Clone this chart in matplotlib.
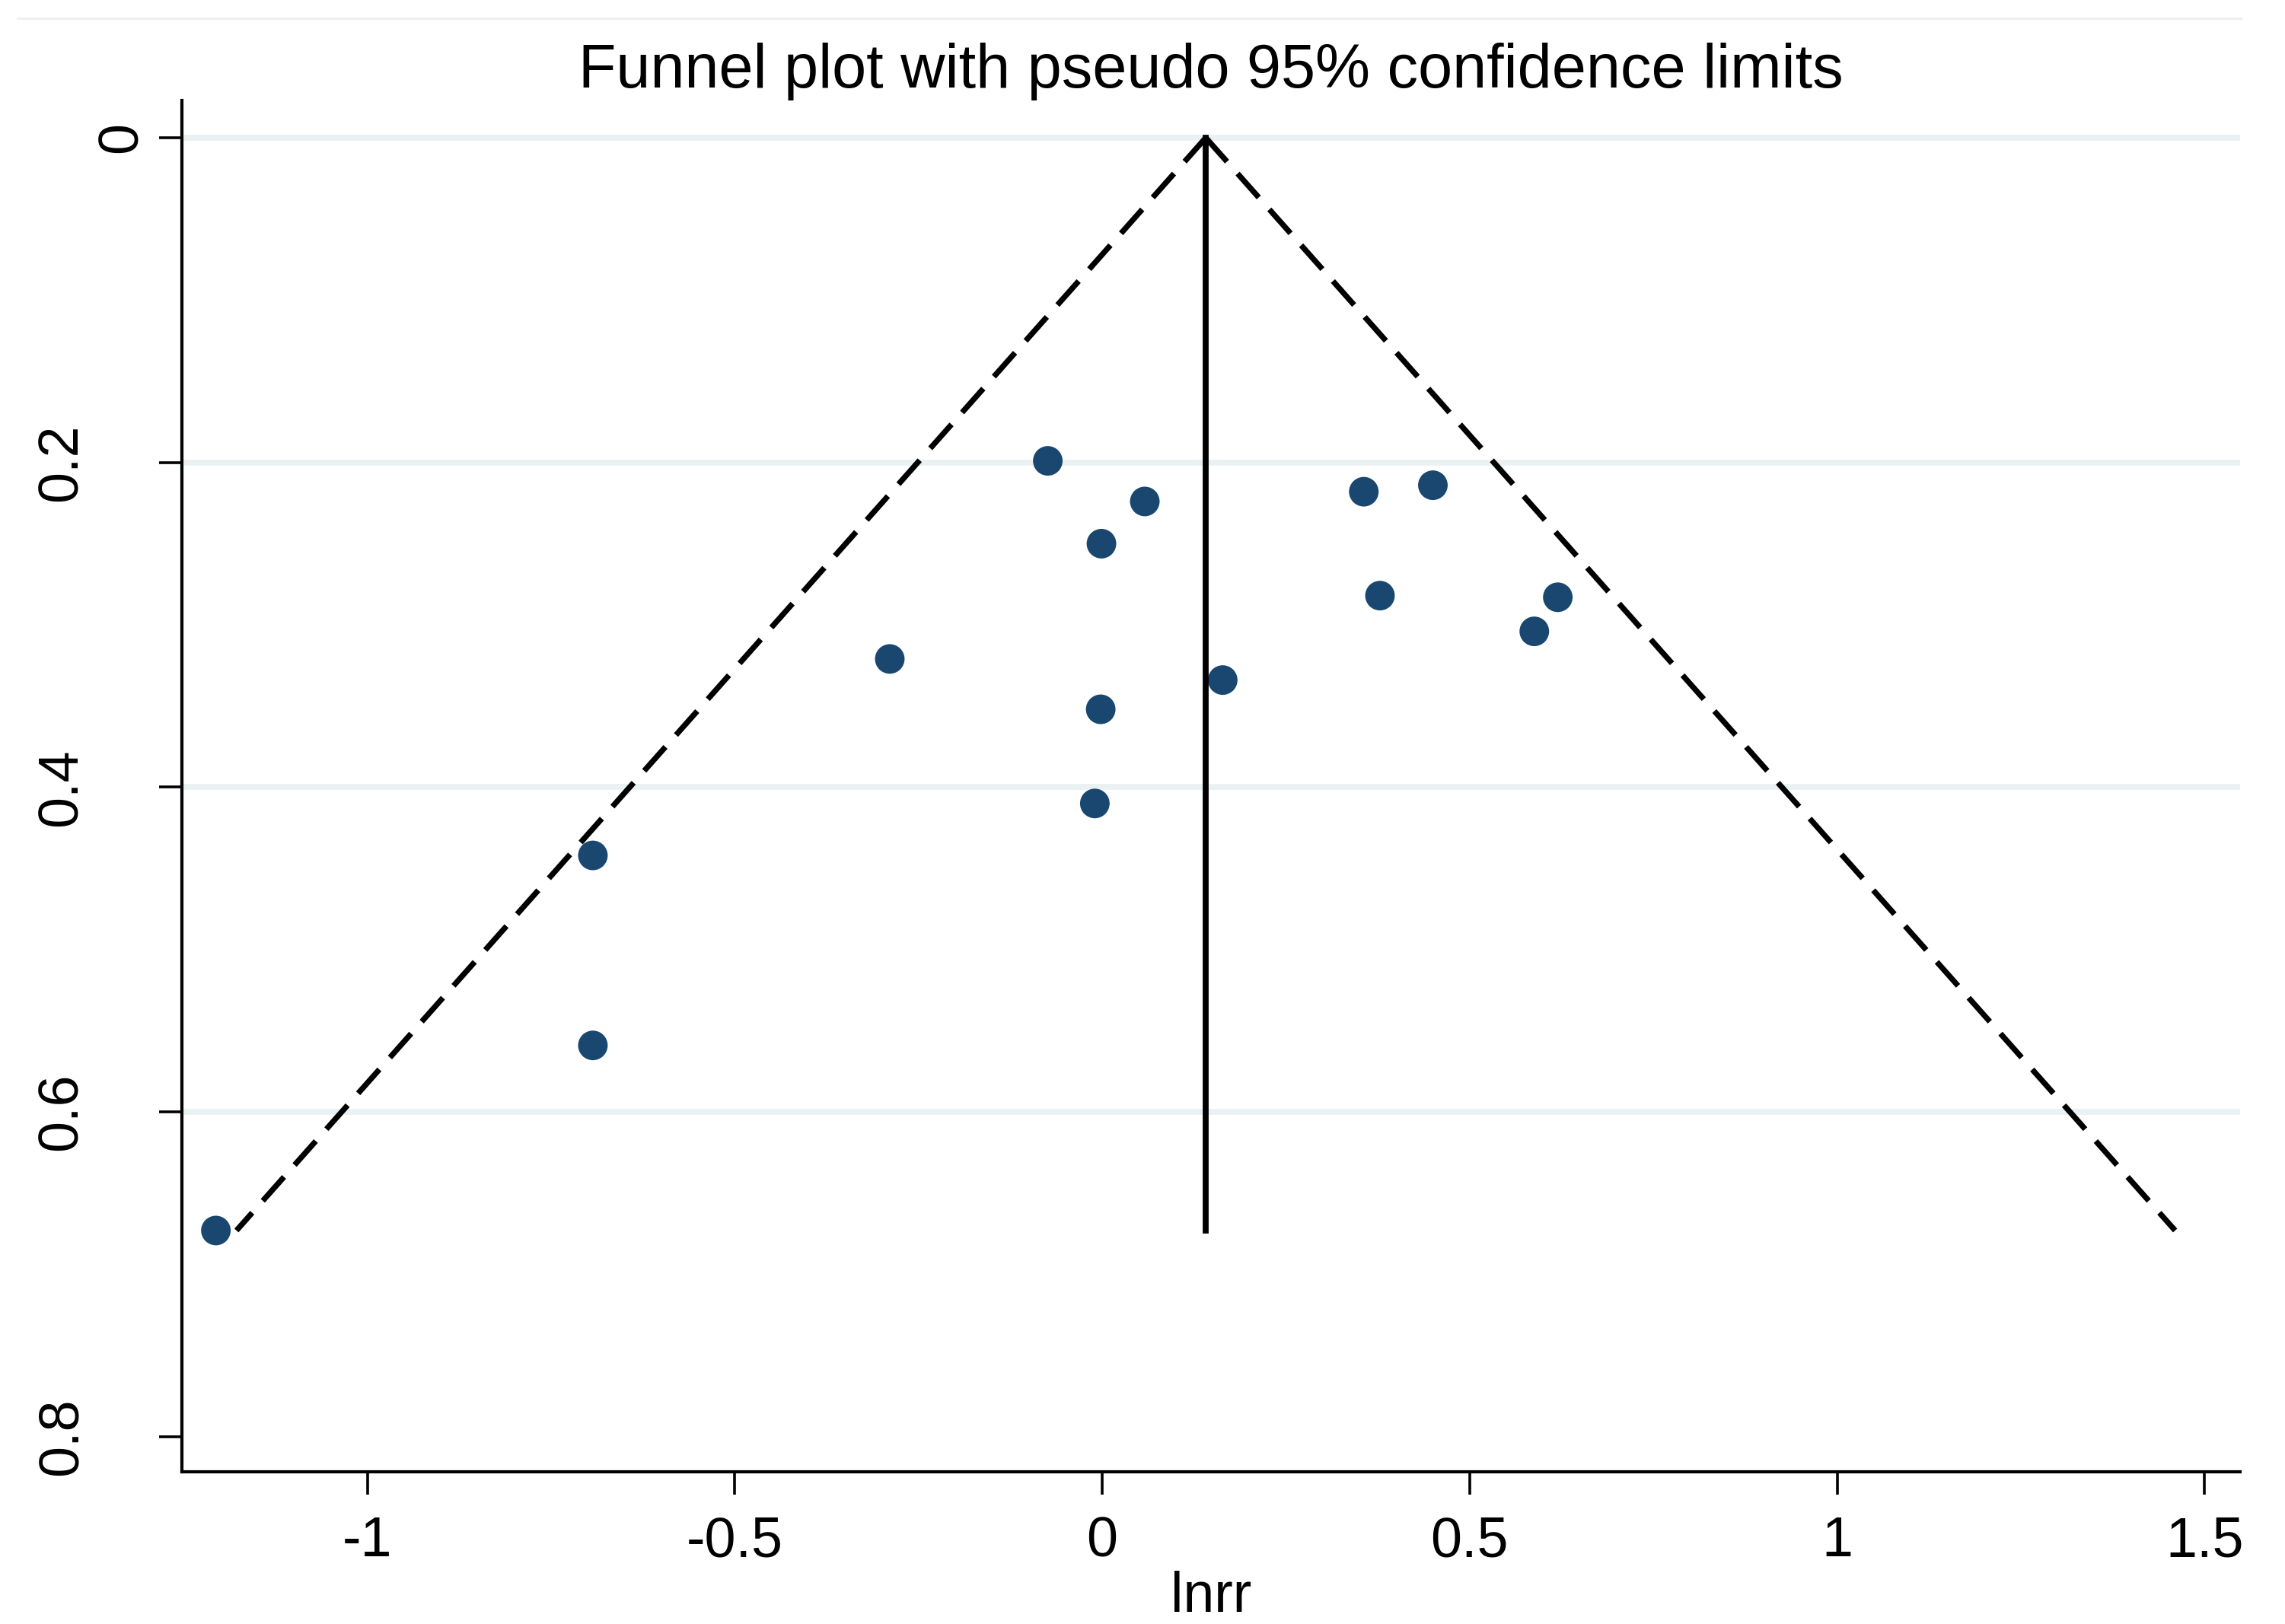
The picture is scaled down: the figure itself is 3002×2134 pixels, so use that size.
import numpy as np
import matplotlib
matplotlib.use('Agg')
import matplotlib.pyplot as plt
from matplotlib.lines import Line2D
from matplotlib.transforms import ScaledTranslation

plt.rcParams['font.family'] = ['Liberation Sans', 'DejaVu Sans']

# study estimates (log rate ratio) and their standard errors
lnrr = [-0.074, 0.058, -0.001, 0.356, 0.450, 0.378, 0.620, 0.588,
        -0.289, 0.164, -0.002, -0.010, -0.693, -0.693, -1.206]
se = [0.199, 0.224, 0.250, 0.218, 0.214, 0.282, 0.283, 0.304,
      0.321, 0.334, 0.352, 0.410, 0.442, 0.559, 0.673]

# pooled estimate and pseudo 95% limits (apex -> widest se)
theta = 0.141
ci_se = [0.0, 0.673]
ci_lower = [0.141, -1.178]
ci_upper = [0.141, 1.460]

xticks = [-1, -0.5, 0, 0.5, 1, 1.5]
xticklabels = ['-1', '-0.5', '0', '0.5', '1', '1.5']
yticks = [0, 0.2, 0.4, 0.6, 0.8]
yticklabels = ['0', '0.2', '0.4', '0.6', '0.8']

navy = '#1a476f'
gridc = '#eaf1f3'

fig = plt.figure(figsize=(30.02, 21.34), dpi=100)
ax = fig.add_axes([0.07978, 0.09372, 0.90057, 0.84442])

ax.scatter(lnrr, se, s=28 ** 2, color=navy, edgecolors='none', zorder=3)
ax.plot(ci_lower, ci_se, color='black', lw=5.3, dashes=(5.7, 2.85), zorder=4)
ax.plot(ci_upper, ci_se, color='black', lw=5.3, dashes=(5.7, 2.85), zorder=4)
ax.plot([theta, theta], ci_se, color='black', lw=5.6, zorder=4)

ax.set_xlim(-1.2517, 1.5484)
ax.set_ylim(0.8216, -0.02296)

ax.set_xticks(xticks)
ax.set_xticklabels(xticklabels)
ax.set_yticks(yticks)
ax.set_yticklabels(yticklabels)

ax.tick_params(axis='both', direction='out', length=21.6, width=2.6,
               labelsize=53, color='black')
ax.tick_params(axis='x', pad=19.5)
ax.tick_params(axis='y', pad=92.5)
for lab in ax.get_yticklabels():
    lab.set_rotation(90)
    lab.set_ha('center')
    lab.set_va('center')
# the single-digit label sits closer to the axis in the original
ylabs = ax.get_yticklabels()
ylabs[0].set_transform(ylabs[0].get_transform() +
                       ScaledTranslation(79.5 / 100, 0, fig.dpi_scale_trans))

ax.yaxis.grid(True, color=gridc, lw=5.5, zorder=0)
ax.set_axisbelow(True)
ax.get_ygridlines()[-1].set_visible(False)

for side in ['top', 'right']:
    ax.spines[side].set_visible(False)
for side in ['left', 'bottom']:
    ax.spines[side].set_linewidth(3.0)

ax.set_xlabel('lnrr', fontsize=53, labelpad=3)
ax.set_title('Funnel plot with pseudo 95% confidence limits', fontsize=58.3, pad=7)

fig.add_artist(Line2D([23 / 3002, 2945 / 3002], [1 - 24 / 2134, 1 - 24 / 2134],
                      transform=fig.transFigure, color=gridc, lw=2.2))

fig.savefig('out.png', dpi=100, facecolor='white')
